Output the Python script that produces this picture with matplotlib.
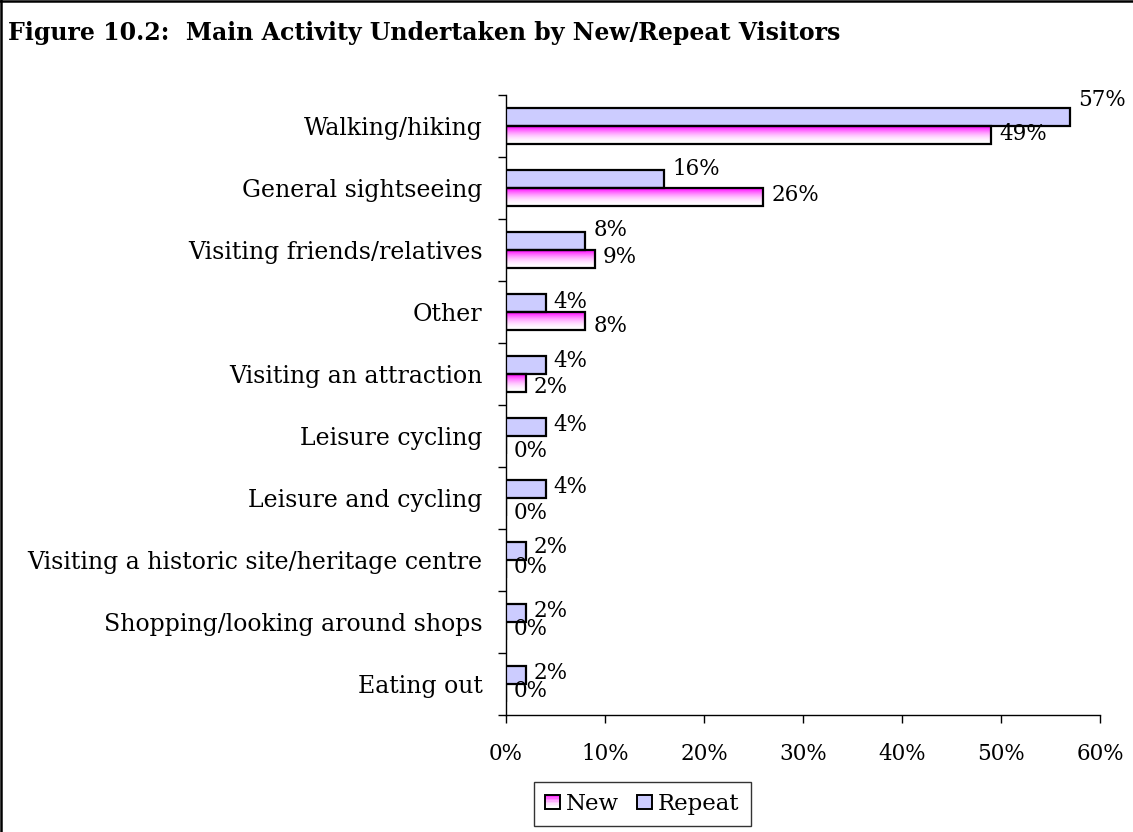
import numpy as np
import matplotlib
matplotlib.use("Agg")
import matplotlib.pyplot as plt
from matplotlib.patches import Rectangle
from matplotlib.lines import Line2D
from matplotlib.legend_handler import HandlerBase
from matplotlib.colors import to_rgb

# Data
categories = [
    "Walking/hiking",
    "General sightseeing",
    "Visiting friends/relatives",
    "Other",
    "Visiting an attraction",
    "Leisure cycling",
    "Leisure and cycling",
    "Visiting a historic site/heritage centre",
    "Shopping/looking around shops",
    "Eating out",
]
repeat_pct = [57, 16, 8, 4, 4, 4, 4, 2, 2, 2]
new_pct = [49, 26, 9, 8, 2, 0, 0, 0, 0, 0]
x_ticks = [0, 10, 20, 30, 40, 50, 60]

# Small vertical nudges (pixels, + is down) for the value labels
repeat_nudge = [-17, -10, -11, -1, -4, -2, -2, -4, -2, -2]
new_nudge = [-1, -2, -2, 5, 4, 6, 6, -2, -2, -2]

FONT = "DejaVu Serif"
plt.rcParams["font.family"] = FONT

REPEAT_COLOR = "#CCCCFF"
MAGENTA = "#FF00FF"

TICK_FS = 15.5
CAT_FS = 17
VAL_FS = 15.5

W, H, DPI = 1133, 832, 100
fig = plt.figure(figsize=(W / DPI, H / DPI), dpi=DPI)
ax = fig.add_axes([506 / W, 1 - 715 / H, (1100 - 506) / W, (715 - 95) / H])

n = len(categories)
pos = np.arange(n)
bh = 0.29

def gradient_rgb(steps):
    t = np.linspace(0, 1, steps)
    a = (1 - t) ** 2
    m = np.array(to_rgb(MAGENTA))
    return a[:, None] * m[None, :] + (1 - a[:, None]) * np.ones(3)[None, :]

grad = gradient_rgb(64)[:, None, :]

# Repeat bars (upper), New bars (lower)
rep_bars = ax.barh(pos - bh / 2, repeat_pct, height=bh, color=REPEAT_COLOR,
                   edgecolor="black", linewidth=1.6, zorder=3)
new_bars = ax.barh(pos + bh / 2, new_pct, height=bh, color="none",
                   edgecolor="black", linewidth=1.6, zorder=3)

for b, v in zip(new_bars, new_pct):
    if v <= 0:
        continue
    x0, y0 = b.get_x(), b.get_y()
    w, h = b.get_width(), b.get_height()
    im = ax.imshow(grad, extent=(x0, x0 + w, y0 + h, y0), origin="upper",
                   aspect="auto", zorder=2, interpolation="bilinear")
    clip = Rectangle((x0, y0), w, h, transform=ax.transData)
    im.set_clip_path(clip)

ax.set_xlim(0, 60)
ax.set_ylim(n - 0.5, -0.5)

# Value labels
for i in range(n):
    ax.annotate(f"{repeat_pct[i]}%", xy=(repeat_pct[i], pos[i] - bh / 2),
                xytext=(8, -repeat_nudge[i]), textcoords="offset pixels",
                ha="left", va="center", fontsize=VAL_FS, color="black", zorder=5)
    ax.annotate(f"{new_pct[i]}%", xy=(new_pct[i], pos[i] + bh / 2),
                xytext=(8, -new_nudge[i]), textcoords="offset pixels",
                ha="left", va="center", fontsize=VAL_FS, color="black", zorder=5)

# Axes styling
for s in ("top", "right"):
    ax.spines[s].set_visible(False)
for s in ("left", "bottom"):
    ax.spines[s].set_color("black")
    ax.spines[s].set_linewidth(1.0)

ax.set_xticks(x_ticks)
ax.set_xticklabels([f"{t}%" for t in x_ticks], fontsize=TICK_FS)
ax.tick_params(axis="x", direction="out", length=6, width=1.0, pad=14.5)

ax.set_yticks(pos)
ax.set_yticklabels(categories, fontsize=CAT_FS)
ax.tick_params(axis="y", which="major", length=0, pad=17)
ax.set_yticks(np.arange(-0.5, n, 1.0), minor=True)
ax.tick_params(axis="y", which="minor", direction="out", length=6, width=1.0)

# Legend handle with magenta-to-white fill
class GradientHandler(HandlerBase):
    def create_artists(self, legend, orig_handle, xdescent, ydescent,
                       width, height, fontsize, trans):
        side = min(width, height)
        x0 = -xdescent + (width - side) / 2
        y0 = -ydescent + (height - side) / 2
        steps = 10
        cols = gradient_rgb(steps)
        arts = []
        sh = side / steps
        for k in range(steps):
            r = Rectangle((x0, y0 + side - (k + 1) * sh), side, sh,
                          facecolor=cols[k], edgecolor="none", transform=trans)
            arts.append(r)
        arts.append(Rectangle((x0, y0), side, side, facecolor="none",
                              edgecolor="black", linewidth=1.4, transform=trans))
        return arts

class SquareHandler(HandlerBase):
    def create_artists(self, legend, orig_handle, xdescent, ydescent,
                       width, height, fontsize, trans):
        side = min(width, height)
        x0 = -xdescent + (width - side) / 2
        y0 = -ydescent + (height - side) / 2
        return [Rectangle((x0, y0), side, side, facecolor=REPEAT_COLOR,
                          edgecolor="black", linewidth=1.4, transform=trans)]

h_new = Rectangle((0, 0), 1, 1)
h_rep = Rectangle((0, 0), 1, 1)
leg = fig.legend([h_new, h_rep], ["New", "Repeat"],
                 handler_map={h_new: GradientHandler(), h_rep: SquareHandler()},
                 loc="center", bbox_to_anchor=(642 / W, 1 - 804 / H),
                 ncol=2, fontsize=16.5, frameon=True, fancybox=False,
                 handlelength=0.65, handleheight=0.65, handletextpad=0.25,
                 columnspacing=0.8, borderpad=0.5, borderaxespad=0)
leg.get_frame().set_edgecolor("black")
leg.get_frame().set_linewidth(1.0)

# Title
fig.text(8 / W, 1 - 33 / H,
         "Figure 10.2:  Main Activity Undertaken by New/Repeat Visitors",
         ha="left", va="center", fontsize=17, fontweight="bold")

# Outer frame (left and top edges)
fig.add_artist(Line2D([1.2 / W, 1.2 / W], [0, 1], color="black", linewidth=1.8,
                      transform=fig.transFigure))
fig.add_artist(Line2D([0, 1], [1 - 1.2 / H, 1 - 1.2 / H], color="black",
                      linewidth=1.8, transform=fig.transFigure))

fig.savefig("out.png", dpi=DPI)
